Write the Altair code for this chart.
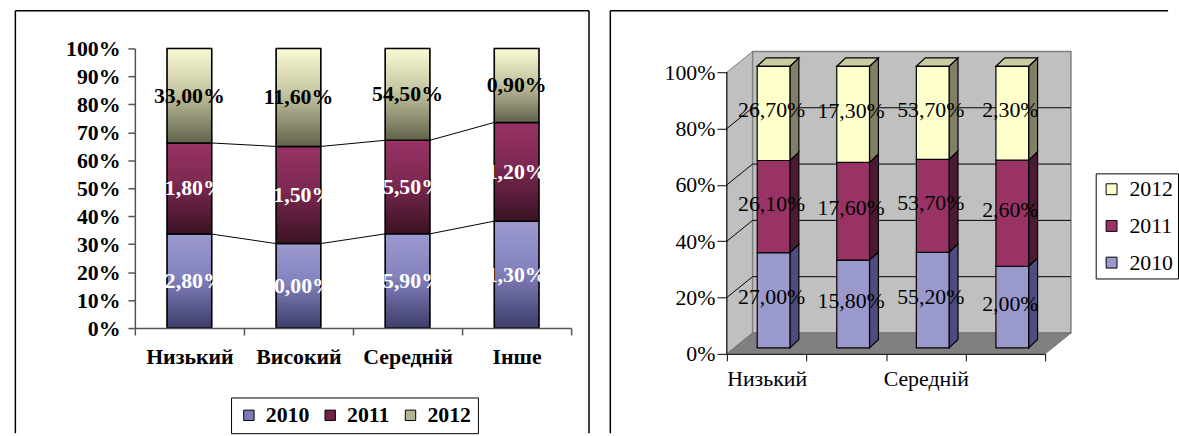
import json
import altair as alt
import pandas as pd

# ---------------- data ----------------
categories = ["Низький", "Високий", "Середній", "Інше"]
series = ["2010", "2011", "2012"]

left_2010 = [32.80, 10.00, 55.90, 1.30]
left_2011 = [31.80, 11.50, 55.50, 1.20]
left_2012 = [33.00, 11.60, 54.50, 0.90]

right_2010 = [27.00, 15.80, 55.20, 2.00]
right_2011 = [26.10, 17.60, 53.70, 2.60]
right_2012 = [26.70, 17.30, 53.70, 2.30]

y_ticks_left = [i / 10 for i in range(11)]
y_ticks_right = [i / 5 for i in range(6)]

FONT = "Liberation Serif"


def fmt(v):
    return f"{v:.2f}".replace(".", ",") + "%"


def stacked(series_values):
    rows = []
    for i, cat in enumerate(categories):
        total = sum(vals[i] for vals in series_values)
        cum = 0.0
        for s, vals in zip(series, series_values):
            v = vals[i]
            rows.append({"cat": cat, "idx": i, "series": s, "value": v,
                         "label": fmt(v), "c0": cum / total, "c1": (cum + v) / total})
            cum += v
    df = pd.DataFrame(rows)
    df["mid"] = (df["c0"] + df["c1"]) / 2
    return df


dummy = pd.DataFrame({"frame": [0]})

# ---------------- LEFT PANEL ----------------
LW, LH = 440, 282
BAR_W = 45
ldf = stacked([left_2010, left_2011, left_2012])

line_rows = []
for s in series[:-1]:
    sub = list(ldf[ldf.series == s].sort_values("idx").itertuples())
    for a, b in zip(sub, sub[1:]):
        line_rows.append({"cat": a.cat, "cat_next": b.cat, "ya": a.c1, "yb": b.c1})
ldf_lines = pd.DataFrame(line_rows)


def vgrad(c_top, c_mid, c_bot):
    return {"gradient": "linear", "x1": 0, "y1": 0, "x2": 0, "y2": 1,
            "stops": [{"offset": 0, "color": c_top},
                      {"offset": 0.45, "color": c_mid},
                      {"offset": 1, "color": c_bot}]}


left_gradients = [vgrad("#9C9AD0", "#8482BE", "#3D3D6B"),
                  vgrad("#993265", "#7C2851", "#3A1224"),
                  vgrad("#FAFAD4", "#C6C6A2", "#62624C")]
left_legend_colors = ["#7C7AB6", "#6E2246", "#B4B492"]

lx_scale = alt.Scale(domain=categories, paddingInner=0, paddingOuter=0)
ly_scale = alt.Scale(domain=[0, 1], nice=False, zero=True)
lx_axis = alt.Axis(title=None, labelAngle=0, tickBand="extent", tickSize=7,
                   tickColor="#555", domainColor="#555", domainWidth=1.5, tickWidth=1.5,
                   labelFont=FONT, labelFontSize=22, labelFontWeight="bold",
                   labelColor="black", labelPadding=12, grid=False, zindex=1)
ly_axis = alt.Axis(title=None, values=y_ticks_left, format=".0%", tickSize=7,
                   tickColor="#555", domainColor="#555", domainWidth=1.5, tickWidth=1.5,
                   labelFont=FONT, labelFontSize=22, labelFontWeight="bold",
                   labelColor="black", labelPadding=8, grid=False, zindex=1)

lx = alt.X("cat:N", scale=lx_scale, axis=lx_axis)


def lY(f):
    return alt.Y(f, scale=ly_scale, axis=ly_axis)


bg = alt.Chart(dummy).mark_rect(fill="white", strokeWidth=0).encode(
    x=alt.value(-136), x2=alt.value(1043), y=alt.value(-47), y2=alt.value(389))

frame_l = [
    alt.Chart(dummy).mark_rule(color="black", strokeWidth=1.5).encode(
        x=alt.value(-120.5), y=alt.value(-38), y2=alt.value(388)),
    alt.Chart(dummy).mark_rule(color="black", strokeWidth=1.5).encode(
        x=alt.value(-120.5), x2=alt.value(458), y=alt.value(-38)),
    alt.Chart(dummy).mark_rule(color="black", strokeWidth=1.5).encode(
        x=alt.value(458), y=alt.value(-38), y2=alt.value(388)),
]

base_bars = alt.Chart(ldf).mark_bar(width=BAR_W, stroke="black", strokeWidth=1).encode(
    x=lx, y=lY("c1:Q"), y2="c0:Q",
    color=alt.Color("series:N",
                    scale=alt.Scale(domain=series, range=left_legend_colors),
                    legend=alt.Legend(title=None, orient="none", legendX=97, legendY=352,
                                      direction="horizontal", padding=7, columnPadding=10,
                                      symbolType="square", symbolSize=110,
                                      symbolStrokeColor="black", symbolStrokeWidth=1,
                                      labelFont=FONT, labelFontSize=22, labelFontWeight="bold",
                                      labelColor="black", labelOffset=6,
                                      strokeColor="black", fillColor="white")),
)

grad_layers = [
    alt.Chart(ldf).transform_filter(alt.datum.series == s).mark_bar(
        width=BAR_W, fill=g, stroke="black", strokeWidth=1.5).encode(
        x=lx, y=lY("c1:Q"), y2="c0:Q")
    for s, g in zip(series, left_gradients)
]

series_lines = alt.Chart(ldf_lines).mark_rule(
    color="black", strokeWidth=1, xOffset=BAR_W / 2, x2Offset=-BAR_W / 2).encode(
    x=lx, x2=alt.X2("cat_next"), y=lY("ya:Q"), y2=alt.Y2("yb"))

left_text = alt.Chart(ldf).mark_text(font=FONT, fontSize=22, fontWeight="bold").encode(
    x=lx, y=lY("mid:Q"), text="label:N",
    color=alt.condition(alt.datum.series == series[-1], alt.value("black"), alt.value("white")))

left = alt.layer(bg, *frame_l, base_bars, *grad_layers, series_lines, left_text).properties(
    width=LW, height=LH, view=alt.ViewBackground(stroke="#A6A6A6", strokeWidth=1.5))

# ---------------- RIGHT PANEL (3-D look) ----------------
RW, RH = 321, 308
UNIT = 284                      # pixels for 100 %
STEP = RW / len(categories)     # pixels per category


def px_x(p):
    return p / STEP


def px_y(p):
    return p / UNIT


WDX, WDY = px_x(26), px_y(21)     # wall depth
BSX, BSY = px_x(7), px_y(6)       # bar placement inside depth
BHW = px_x(16.5)                  # half bar width
BDX, BDY = px_x(9), px_y(8.5)     # bar depth

front_colors = {"2010": "#9999CC", "2011": "#993366", "2012": "#FFFFCC"}
side_colors = {"2010": "#4D4D80", "2011": "#4D1A33", "2012": "#808066"}
TOP_COLOR = "#CCCCA3"

rdf = stacked([right_2010, right_2011, right_2012])
rdf["fx"] = rdf["idx"] + 0.5 + BSX - BHW
rdf["fx2"] = rdf["idx"] + 0.5 + BSX + BHW
rdf["fy"] = rdf["c0"] + BSY
rdf["fy2"] = rdf["c1"] + BSY
rdf["lx"] = rdf["idx"] + 0.5 + BSX - px_x(2)
rdf["ly"] = rdf["mid"] + BSY + px_y(3)

faces = []
for r in rdf.itertuples():
    fid = f"{r.idx}-{r.series}"
    faces.append({"fid": fid, "face": "side-" + r.series, "x": r.fx2, "up": r.fy2, "lo": r.fy})
    faces.append({"fid": fid, "face": "side-" + r.series, "x": r.fx2 + BDX,
                  "up": r.fy2 + BDY, "lo": r.fy + BDY})
    if r.series == series[-1]:
        tid = f"{r.idx}-top"
        yt = r.fy2
        faces += [
            {"fid": tid, "face": "top", "x": r.fx, "up": yt, "lo": yt},
            {"fid": tid, "face": "top", "x": r.fx + BDX, "up": yt + BDY, "lo": yt},
            {"fid": tid, "face": "top", "x": r.fx2, "up": yt + BDY, "lo": yt},
            {"fid": tid, "face": "top", "x": r.fx2 + BDX, "up": yt + BDY, "lo": yt + BDY},
        ]
faces_df = pd.DataFrame(faces)
face_domain = ["side-" + s for s in series] + ["top"]
face_range = [side_colors[s] for s in series] + [TOP_COLOR]

n = len(categories)
side_wall = pd.DataFrame({"x": [0, WDX], "up": [1, 1 + WDY], "lo": [0, WDY]})
floor = pd.DataFrame({"x": [0, WDX, n, n + WDX], "up": [0, WDY, WDY, WDY], "lo": [0, 0, 0, WDY]})
back_wall = pd.DataFrame({"x0": [WDX], "x1": [n + WDX], "y0": [WDY], "y1": [1 + WDY]})
grid_rows = []
for v in y_ticks_right[1:-1]:
    grid_rows += [{"v": v, "x": 0, "y": v},
                  {"v": v, "x": WDX, "y": v + WDY},
                  {"v": v, "x": n + WDX, "y": v + WDY}]
grid_df = pd.DataFrame(grid_rows)
yaxis_line = pd.DataFrame({"x": [0], "y0": [0], "y1": [1]})

rx_scale = alt.Scale(domain=[0, n], nice=False, zero=False)
ry_scale = alt.Scale(domain=[0, RH / UNIT], nice=False, zero=False)
label_expr = ("(datum.value % 2 == 0 && datum.value < " + str(n) + ") ? "
              + json.dumps(categories, ensure_ascii=False) + "[datum.value] : ''")
rx_axis = alt.Axis(title=None, values=list(range(n + 1)), labelExpr=label_expr,
                   labelOffset=STEP / 2, labelFlush=False, labelOverlap=False, labelAngle=0,
                   tickSize=7, tickColor="black", domainColor="black",
                   labelFont=FONT, labelFontSize=22, labelColor="black", labelPadding=8,
                   grid=False, zindex=1)
ry_axis = alt.Axis(title=None, values=y_ticks_right, format=".0%", tickSize=10,
                   tickColor="black", domain=False, grid=False,
                   labelFont=FONT, labelFontSize=22, labelColor="black", labelPadding=2,
                   zindex=1)


def rX(f):
    return alt.X(f, scale=rx_scale, axis=rx_axis)


def rY(f):
    return alt.Y(f, scale=ry_scale, axis=ry_axis)


wall_side = alt.Chart(side_wall).mark_area(
    orient="vertical", fill="#C0C0C0", stroke="#808080", strokeWidth=1).encode(
    x=rX("x:Q"), y=rY("up:Q"), y2="lo:Q")
wall_back = alt.Chart(back_wall).mark_rect(
    fill="#C0C0C0", stroke="#808080", strokeWidth=1.5).encode(
    x=rX("x0:Q"), x2="x1:Q", y=rY("y0:Q"), y2="y1:Q")
wall_floor = alt.Chart(floor).mark_area(
    orient="vertical", fill="#808080", stroke="#707070", strokeWidth=1).encode(
    x=rX("x:Q"), y=rY("up:Q"), y2="lo:Q")
grid = alt.Chart(grid_df).mark_line(color="black", strokeWidth=1).encode(
    x=rX("x:Q"), y=rY("y:Q"), detail="v:N")

face_layer = alt.Chart(faces_df).mark_area(
    orient="vertical", stroke="black", strokeWidth=1.2).encode(
    x=rX("x:Q"), y=rY("up:Q"), y2="lo:Q", detail="fid:N",
    fill=alt.Fill("face:N", scale=alt.Scale(domain=face_domain, range=face_range), legend=None))

front = alt.Chart(rdf).mark_rect(stroke="black", strokeWidth=1.2).encode(
    x=rX("fx:Q"), x2="fx2:Q", y=rY("fy:Q"), y2="fy2:Q",
    color=alt.Color("series:N",
                    scale=alt.Scale(domain=series[::-1], range=[front_colors[s] for s in series[::-1]]),
                    legend=alt.Legend(title=None, orient="none", legendX=372, legendY=126,
                                      direction="vertical", padding=5, rowPadding=15,
                                      symbolType="square", symbolSize=121,
                                      symbolStrokeColor="black", symbolStrokeWidth=1,
                                      labelFont=FONT, labelFontSize=22, labelColor="black",
                                      labelOffset=7, strokeColor="black", fillColor="white")))

right_text = alt.Chart(rdf).mark_text(font=FONT, fontSize=22, color="black").encode(
    x=rX("lx:Q"), y=rY("ly:Q"), text="label:N")

yline = alt.Chart(yaxis_line).mark_rule(color="black", strokeWidth=1).encode(
    x=rX("x:Q"), y=rY("y0:Q"), y2="y1:Q")

frame_r = [
    alt.Chart(dummy).mark_rule(color="black", strokeWidth=1.5).encode(
        x=alt.value(-117.5), y=alt.value(-38), y2=alt.value(388)),
    alt.Chart(dummy).mark_rule(color="black", strokeWidth=1.5).encode(
        x=alt.value(-117.5), x2=alt.value(445), y=alt.value(-38)),
]

right = alt.layer(*frame_r, wall_side, wall_back, wall_floor, grid, face_layer, front,
                  right_text, yline).properties(
    width=RW, height=RH, view=alt.ViewBackground(strokeOpacity=0))

chart = alt.hconcat(left, right, spacing=157, bounds="flush").resolve_scale(
    color="independent").resolve_legend(color="independent").properties(
    padding=0, background="white").configure_view(strokeOpacity=0)

chart.save("out.html", embed_options={"renderer": "svg", "actions": False})
